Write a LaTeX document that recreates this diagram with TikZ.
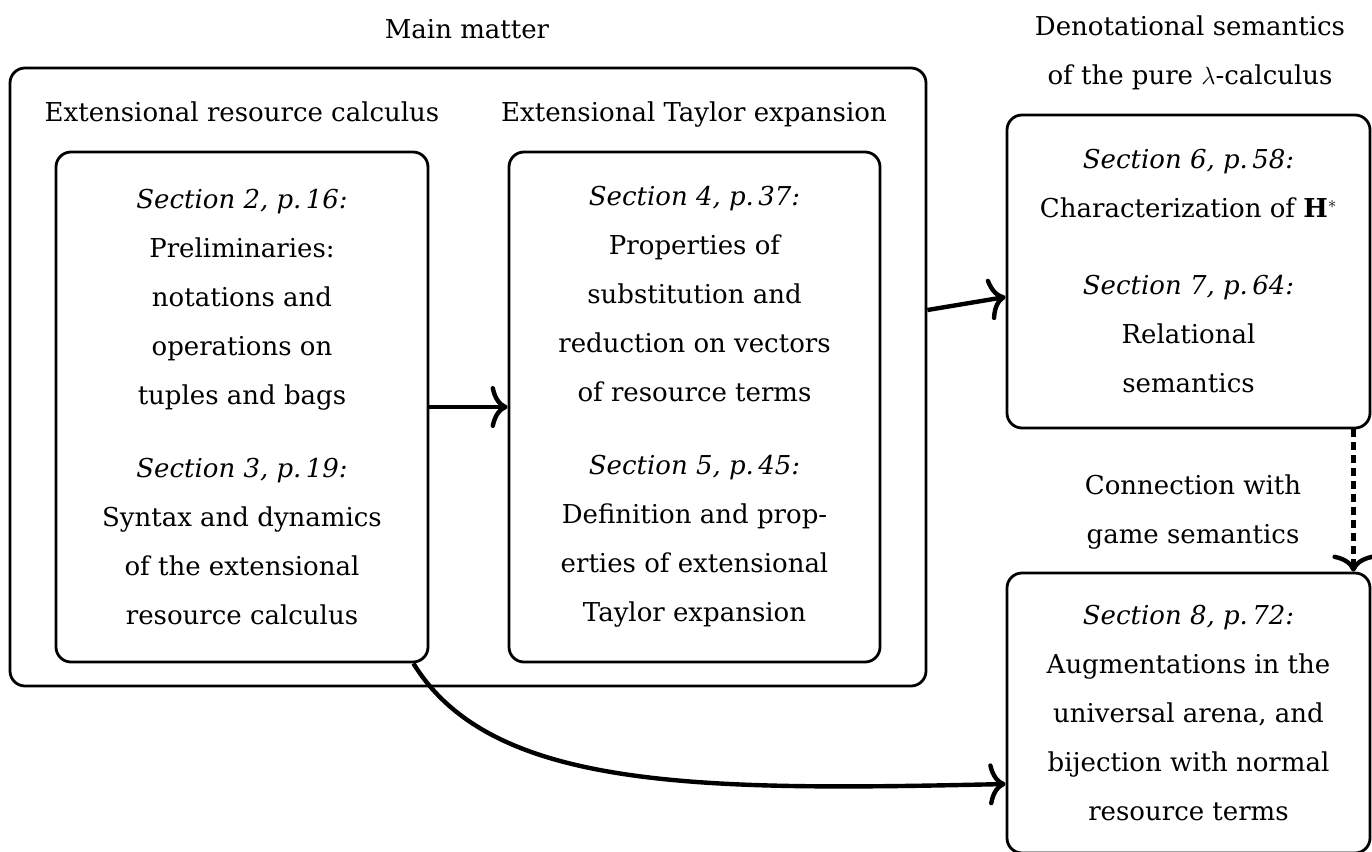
\documentclass[tikz,border=0pt]{standalone}
\usepackage{fontspec}
\setmainfont{DejaVu Serif}
\usetikzlibrary{arrows.meta}
\tikzset{
  box/.style={draw, line width=2.8pt, rounded corners=15pt, align=center, inner sep=0pt},
  lbl/.style={align=center, inner sep=0pt},
  conn/.style={line width=4.4pt, -{Computer Modern Rightarrow[length=17pt,width=42pt]}},
}
\begin{document}
\begin{tikzpicture}[x=1pt,y=-1pt, font=\fontsize{26}{49}\selectfont]
\useasboundingbox (0,0) rectangle (1372,851);
\node[box, minimum width=916pt, minimum height=618pt] (outer) at (468,377) {};
\node[lbl] (mm) at (467,29) {Main matter};
\node[lbl] (erc) at (242,112) {Extensional resource calculus};
\node[lbl] (ete) at (694,114.5) {Extensional Taylor expansion};
\node[lbl] (den) at (1190,53) {Denotational semantics\\of the pure $\lambda$-calculus};
\node[box, minimum width=372pt, minimum height=510pt] (left) at (242,407)
 {\textit{Section 2, p.\,16:}\\Preliminaries:\\notations and\\operations on\\tuples and bags\\[24pt]
  \textit{Section 3, p.\,19:}\\Syntax and dynamics\\of the extensional\\resource calculus};
\node[box, minimum width=371pt, minimum height=510pt] (mid) at (694.5,407)
 {\textit{Section 4, p.\,37:}\\Properties of\\substitution and\\reduction on vectors\\of resource terms\\[24pt]
  \textit{Section 5, p.\,45:}\\Definition and prop-\\erties of extensional\\Taylor expansion};
\node[box, minimum width=363pt, minimum height=313pt] (rt) at (1188.5,271.5)
 {\textit{Section 6, p.\,58:}\\Characterization of $\mathbf{H}^*$\\[28pt]
  \textit{Section 7, p.\,64:}\\Relational\\semantics};
\node[box, minimum width=363pt, minimum height=280pt] (rb) at (1188.5,713)
 {\textit{Section 8, p.\,72:}\\Augmentations in the\\universal arena, and\\bijection with normal\\resource terms};
\node[lbl] (conl) at (1193,512) {Connection with\\game semantics};
\draw[conn] (left.east) -- (mid.west);
\draw[conn] ([yshift=67pt]outer.east) -- ([yshift=-25.5pt]rt.west);
\draw[conn, dash pattern=on 8pt off 5pt] ([xshift=-18pt]rt.south east) -- ([xshift=-18pt]rb.north east);
\draw[conn] ([xshift=-16pt]left.south east) .. controls +(78,127) and +(-307,7) .. ([yshift=-71pt]rb.west);
\end{tikzpicture}
\end{document}
